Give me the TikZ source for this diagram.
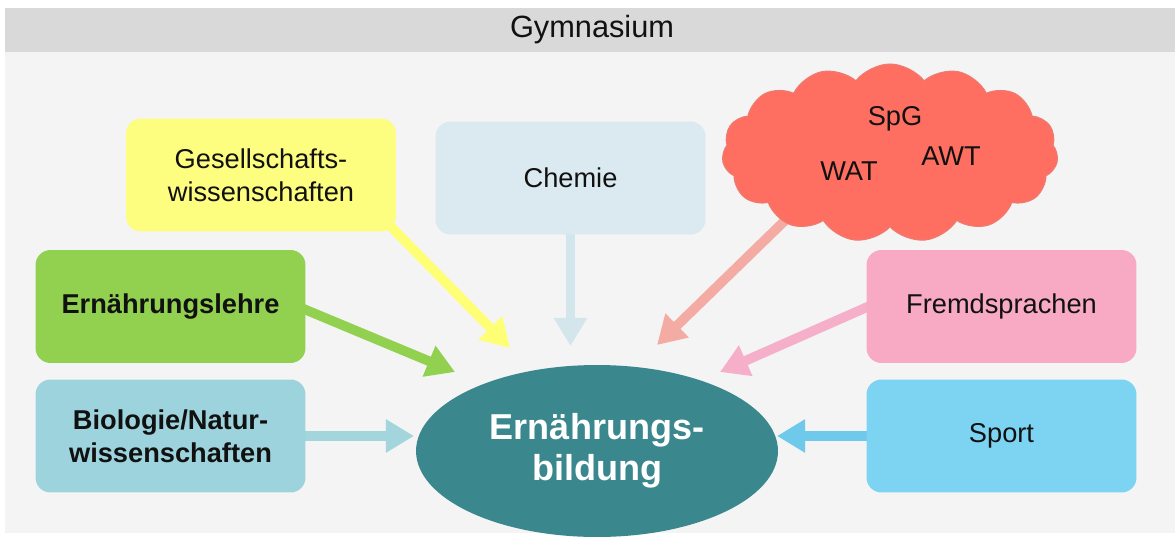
\documentclass[tikz,border=0pt]{standalone}
\usepackage{fontspec}
\setmainfont{Liberation Sans}
\usetikzlibrary{shapes.symbols,shapes.geometric,arrows.meta}
\pgfdeclarelayer{bglayer}
\pgfdeclarelayer{arrowlayer}
\pgfsetlayers{bglayer,arrowlayer,main}
\definecolor{cbg}{HTML}{F4F4F4}
\definecolor{cheader}{HTML}{D9D9D9}
\definecolor{cyel}{HTML}{FDFD7F}
\definecolor{cyelA}{HTML}{FFFF75}
\definecolor{cchem}{HTML}{DAEAF0}
\definecolor{cchemA}{HTML}{D3E6EC}
\definecolor{cgreen}{HTML}{92D050}
\definecolor{cbio}{HTML}{9DD3DC}
\definecolor{cbioA}{HTML}{A3D5DD}
\definecolor{cpink}{HTML}{F8A9C4}
\definecolor{cpinkA}{HTML}{F6AFC8}
\definecolor{csport}{HTML}{7DD4F2}
\definecolor{csportA}{HTML}{6EC9EA}
\definecolor{ccloud}{HTML}{FE6F62}
\definecolor{ccloudB}{HTML}{EE7A70}
\definecolor{ccloudA}{HTML}{F4ABA3}
\definecolor{cteal}{HTML}{3A878E}
\definecolor{ctext}{HTML}{111111}
\begin{document}
\begin{tikzpicture}[x=0.02cm,y=-0.02cm,
  box/.style={rounded corners=0.3cm, minimum width=5.4cm, minimum height=2.26cm,
    align=center, inner sep=0pt, text=ctext, font=\fontsize{15.5}{18.7}\selectfont},
  boldbox/.style={box, font=\fontsize{15.5}{18.7}\selectfont\bfseries},
  conn/.style={line width=5.5pt, -{Triangle[length=16pt,width=18pt]}},
  cloudtext/.style={text=ctext, font=\fontsize{15.5}{18.7}\selectfont, inner sep=0pt}
  ]
\useasboundingbox (0,0) rectangle (1175,537);
\begin{pgfonlayer}{bglayer}
\fill[white] (0,0) rectangle (1175,537);
\fill[cbg] (5,8) rectangle (1175,533);
\fill[cheader] (5,8) rectangle (1175,52);
\end{pgfonlayer}
\node[text=ctext, font=\fontsize{17.5}{20}\selectfont] (title) at (592,30) {Gymnasium};

% tip coordinates
\coordinate (tges) at (510,348);
\coordinate (tchem) at (570.5,346);
\coordinate (tern) at (455,372);
\coordinate (tbio) at (414,436);
\coordinate (tcloud) at (657,345);
\coordinate (tfrem) at (720,372);
\coordinate (tsport) at (777,436);

\node[box, fill=cyel] (ges) at (261,175) {Gesellschafts-\\wissenschaften};
\node[box, fill=cchem] (chem) at (570.5,178) {Chemie};
\node[boldbox, fill=cgreen] (ern) at (170.5,306.5) {Ernährungslehre};
\node[boldbox, fill=cbio] (bio) at (170.5,436) {Biologie/Natur-\\wissenschaften};
\node[box, fill=cpink] (frem) at (1001.5,306.5) {Fremdsprachen};
\node[box, fill=csport] (sport) at (1001.5,436) {Sport};
\node[cloud, cloud puffs=15, cloud puff arc=105, fill=ccloud, draw=ccloudB, line width=0.6pt,
  minimum width=6.72cm, minimum height=3.56cm, inner sep=0pt] (cloud) at (890,153) {};
\node[cloudtext] (spg) at (895,119) {SpG};
\node[cloudtext] (wat) at (849,171) {WAT};
\node[cloudtext] (awt) at (951,156) {AWT};
\node[ellipse, fill=cteal, minimum width=7.24cm, minimum height=3.44cm, inner sep=0pt,
  align=center, text=white, font=\fontsize{20.5}{23.5}\selectfont\bfseries] (bild) at (597,451)
  {Ernährungs-\\bildung};

\begin{pgfonlayer}{arrowlayer}
\draw[conn, cyelA] ([shift={(-20,-20)}]ges.south east) -- (tges);
\draw[conn, cchemA] ([shift={(0,-10)}]chem.south) -- (tchem);
\draw[conn, cgreen] ([shift={(-20,-5)}]ern.east) -- (tern);
\draw[conn, cbioA] ([shift={(-10,0)}]bio.east) -- (tbio);
\draw[conn, ccloudA] ([shift={(-85,48)}]cloud.center) -- (tcloud);
\draw[conn, cpinkA] ([shift={(18,-7)}]frem.west) -- (tfrem);
\draw[conn, csportA] ([shift={(10,0)}]sport.west) -- (tsport);
\end{pgfonlayer}
\end{tikzpicture}
\end{document}
